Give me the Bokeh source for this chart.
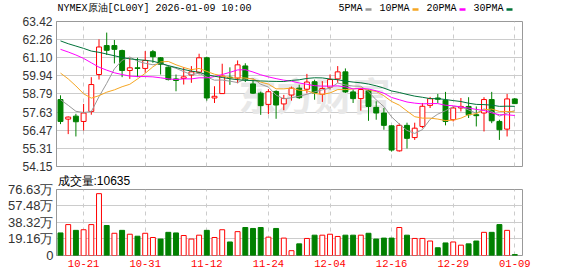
import pandas as pd
from bokeh.plotting import figure
from bokeh.layouts import column
from bokeh.models import Range1d, FixedTicker, CustomJSTickFormatter, Label, ColumnDataSource
from bokeh.core.properties import value
from bokeh.embed import file_html
from bokeh.resources import INLINE

# ---------------- data ----------------
dates = ["10-16", "10-17", "10-20", "10-21", "10-22", "10-23", "10-24", "10-27", "10-28", "10-29",
         "10-30", "10-31", "11-03", "11-04", "11-05", "11-06", "11-07", "11-10", "11-11", "11-12",
         "11-13", "11-14", "11-17", "11-18", "11-19", "11-20", "11-21", "11-24", "11-25", "11-26",
         "11-27", "11-28", "12-01", "12-02", "12-03", "12-04", "12-05", "12-08", "12-09", "12-10",
         "12-11", "12-12", "12-15", "12-16", "12-17", "12-18", "12-19", "12-22", "12-23", "12-24",
         "12-26", "12-29", "12-30", "12-31", "01-02", "01-05", "01-06", "01-07", "01-08", "01-09"]

open_ = [58.43, 57.18, 57.37, 57.03, 57.67, 60.03, 61.88, 61.88, 61.56, 60.29,
         60.46, 60.42, 61.49, 61.10, 60.50, 59.75, 59.78, 60.00, 60.18, 61.10,
         58.53, 58.81, 59.86, 59.80, 60.58, 59.43, 58.84, 58.12, 58.95, 58.15,
         58.72, 59.16, 59.09, 59.57, 58.77, 59.22, 59.75, 60.20, 58.92, 58.49,
         59.00, 57.93, 57.57, 56.75, 55.15, 56.78, 56.00, 56.71, 58.06, 58.53,
         58.38, 57.14, 57.89, 57.99, 57.46, 57.57, 58.43, 57.03, 56.54, 58.47]
high = [58.70, 57.35, 57.52, 58.15, 59.86, 62.28, 62.71, 62.24, 61.62, 61.10,
        61.10, 61.53, 61.60, 61.15, 60.63, 60.03, 60.50, 60.57, 61.36, 61.17,
        59.28, 60.72, 60.49, 60.93, 60.75, 59.70, 58.94, 59.10, 59.02, 58.73,
        59.26, 59.38, 60.07, 59.70, 59.61, 60.03, 60.57, 60.42, 59.07, 59.18,
        59.07, 58.32, 57.89, 56.78, 56.90, 56.95, 56.95, 58.21, 58.60, 58.79,
        58.92, 57.99, 58.53, 58.58, 57.99, 58.58, 58.92, 57.14, 58.79, 58.53]
low = [56.86, 56.22, 56.07, 56.45, 57.46, 59.71, 61.28, 60.74, 59.86, 59.75,
       59.86, 60.14, 60.78, 60.03, 59.65, 58.96, 59.39, 59.50, 60.03, 58.36,
       58.21, 58.79, 59.37, 59.47, 59.55, 58.79, 57.45, 57.50, 57.20, 57.75,
       58.36, 58.47, 58.82, 58.42, 58.28, 59.07, 59.50, 58.85, 58.21, 57.72,
       57.07, 57.14, 56.50, 55.10, 55.10, 55.30, 55.85, 56.60, 57.89, 58.21,
       56.78, 57.03, 57.67, 57.25, 56.71, 56.39, 56.92, 55.85, 56.07, 58.15]
close = [57.03, 57.31, 57.01, 57.57, 59.39, 61.79, 61.58, 61.64, 60.29, 60.46,
         60.42, 60.93, 61.17, 60.68, 59.71, 59.65, 59.88, 60.20, 61.10, 58.53,
         58.64, 59.93, 59.83, 60.65, 59.69, 58.84, 58.04, 58.93, 58.08, 58.50,
         59.16, 58.55, 59.55, 58.85, 59.14, 59.71, 60.20, 58.92, 58.49, 59.07,
         57.99, 57.57, 56.78, 55.20, 56.78, 55.95, 56.60, 58.00, 58.49, 58.45,
         57.03, 57.89, 57.99, 57.46, 57.40, 58.43, 57.07, 56.50, 58.47, 58.17]
# volume in 万 (10,000) units; last bar = 10635
volume_wan = [26.2, 35.9, 29.2, 29.9, 35.9, 71.8, 34.8, 25.8, 29.2, 24.7,
              22.4, 25.8, 20.9, 19.1, 26.9, 26.2, 23.2, 19.1, 23.6, 29.2,
              20.9, 29.9, 15.7, 27.7, 32.5, 31.4, 32.5, 21.3, 31.4, 20.2,
              5.6, 13.5, 19.8, 23.6, 23.6, 24.7, 22.1, 23.6, 23.6, 23.6,
              25.8, 19.1, 20.2, 20.2, 32.5, 23.6, 19.8, 19.8, 16.8, 9.0,
              14.6, 15.7, 12.0, 13.5, 16.8, 26.9, 26.9, 35.9, 29.2, 1.0635]

# moving-average values at the left edge (before enough closes are visible)
ma5_head = [58.42, 58.06, 57.68, 57.60]
ma10_head = [60.12, 59.75, 59.30, 58.80, 58.52, 58.68, 58.90, 59.05, 59.25]
ma20_head = [61.64, 61.47, 61.28, 61.06, 60.78, 60.50, 60.31, 60.14, 60.03, 59.93,
             59.90, 59.90, 59.88, 59.82, 59.75, 59.71, 59.75, 59.75, 59.82]
ma30_head = [62.18, 62.00, 61.85, 61.70, 61.53, 61.45, 61.34, 61.23, 61.12, 61.03,
             60.98, 60.94, 60.88, 60.75, 60.60, 60.48, 60.35, 60.25, 60.17, 60.02,
             59.92, 59.84, 59.76, 59.70, 59.66, 59.64, 59.62, 59.60, 59.59]

price_ticks = [54.15, 55.31, 56.47, 57.63, 58.79, 59.94, 61.10, 62.26, 63.42]
vol_ticks = [0, 19.16, 38.32, 57.48, 76.63]
title_text = "NYMEX原油[CL00Y] 2026-01-09 10:00"
vol_title = "成交量:10635"
ma_names = ["5PMA", "10PMA", "20PMA", "30PMA"]
ma_colors = ["#999999", "#f5a623", "#ff00ff", "#00723a"]

# ---------------- derived ----------------
s = pd.Series(close)


def ma(n, head):
    m = s.rolling(n).mean().tolist()
    return head + m[len(head):]


mas = [ma(5, ma5_head), ma(10, ma10_head), ma(20, ma20_head), ma(30, ma30_head)]

n = len(dates)
xs = list(range(n))
up = [c >= o for o, c in zip(open_, close)]
prev = [open_[0]] + close[:-1]
vup = [c > pc for c, pc in zip(close, prev)]
RED, GREEN = "#ff0000", "#008000"

src = ColumnDataSource(dict(
    x=xs, o=open_, h=high, l=low, c=close,
    btop=[max(o, c) for o, c in zip(open_, close)],
    bbot=[min(o, c) for o, c in zip(open_, close)],
    cline=[RED if u else GREEN for u in up],
    cfill=["white" if u else GREEN for u in up],
    vol=volume_wan,
    vline=[RED if u else GREEN for u in vup],
    vfill=["white" if u else GREEN for u in vup],
))

tick_idx = xs[3::8]
tick_labels = {i: dates[i] for i in tick_idx}

W = 578
BL, BR = 56, 56
FR_W = W - BL - BR
HEAD_H = 14
P_FRAME_H = 145
V_FRAME_H = 68
xr = Range1d(-0.52, -0.52 + FR_W / 7.7)

LABEL_FONT = "Liberation Sans"
MONO = "Liberation Mono"

# ---------------- header: title + MA legend (canvas pixel coordinates) ----------------
h = figure(width=W, height=HEAD_H, x_range=Range1d(BL, W - BR), y_range=Range1d(HEAD_H, 0),
           output_backend="svg", toolbar_location=None,
           min_border_left=BL, min_border_right=BR, min_border_top=0, min_border_bottom=0)
h.axis.visible = False
h.grid.visible = False
h.outline_line_color = None
h.text(x=[57], y=[8], text=[title_text], text_font=value(MONO), text_font_size="10px",
       text_color="#000000", text_baseline="middle", text_align="left")
lx = 338
tx, sx = [], []
for name in ma_names:
    tx.append(lx)
    lx += len(name) * 6 + 3
    sx.append(lx + 3)
    lx += 6 + 8
h.text(x=tx, y=[8] * len(tx), text=ma_names, text_font=value(MONO), text_font_size="10px",
       text_color="#000000", text_baseline="middle", text_align="left")
h.rect(x=sx, y=[9] * len(sx), width=6, height=2.5, fill_color=ma_colors, line_color=None)

# ---------------- price panel ----------------
p = figure(width=W, height=7 + P_FRAME_H + 7, x_range=xr,
           y_range=Range1d(price_ticks[0], price_ticks[-1]),
           output_backend="svg", toolbar_location=None,
           min_border_left=BL, min_border_right=BR, min_border_top=7, min_border_bottom=7)
p.xaxis.visible = False
p.xgrid.ticker = FixedTicker(ticks=tick_idx)
p.xgrid.grid_line_color = "#cccccc"
p.xgrid.grid_line_dash = "4 4"
p.ygrid.ticker = FixedTicker(ticks=price_ticks)
p.ygrid.grid_line_color = "#cccccc"
p.yaxis.ticker = FixedTicker(ticks=price_ticks)
p.yaxis.formatter = CustomJSTickFormatter(code="return tick.toFixed(2);")
p.yaxis.major_tick_line_color = None
p.yaxis.minor_tick_line_color = None
p.yaxis.major_tick_out = 0
p.yaxis.major_label_standoff = 4
p.yaxis.axis_line_color = "#999999"
p.yaxis.major_label_text_font = LABEL_FONT
p.yaxis.major_label_text_font_size = "12px"
p.yaxis.major_label_text_color = "#333333"
p.outline_line_color = "#999999"
p.outline_line_width = 1

p.add_layout(Label(x=258, y=73, x_units="screen", y_units="screen", text="东方财富",
                   text_font="Noto Sans CJK SC", text_font_style="bold", text_font_size="38px",
                   text_color="#e8e8e8", text_align="center", text_baseline="middle",
                   level="underlay"))

p.segment(x0="x", y0="l", x1="x", y1="h", line_color="cline", line_width=1, source=src)
p.vbar(x="x", top="btop", bottom="bbot", width=0.64, fill_color="cfill",
       line_color="cline", line_width=1, source=src)
for vals, col in zip(mas, ma_colors):
    p.line(xs, vals, line_color=col, line_width=1)

# ---------------- volume panel ----------------
v = figure(width=W, height=276 - HEAD_H - (7 + P_FRAME_H + 7), x_range=xr,
           y_range=Range1d(vol_ticks[0], vol_ticks[-1]),
           output_backend="svg", toolbar_location=None,
           min_border_left=BL, min_border_right=BR, min_border_top=14, min_border_bottom=21)
v.title.text = vol_title
v.title.align = "left"
v.title.vertical_align = "top"
v.title.offset = 1
v.title.standoff = 0
v.title.text_font = LABEL_FONT
v.title.text_font_size = "12px"
v.title.text_font_style = "normal"
v.title.text_color = "#000000"
v.xaxis.ticker = FixedTicker(ticks=tick_idx)
v.xaxis.major_label_overrides = tick_labels
v.xaxis.major_tick_line_color = None
v.xaxis.minor_tick_line_color = None
v.xaxis.major_tick_out = 0
v.xaxis.major_label_standoff = 4
v.xaxis.axis_line_color = None
v.xaxis.major_label_text_font = MONO
v.xaxis.major_label_text_font_size = "10.5px"
v.xaxis.major_label_text_color = "#ff0000"
v.xgrid.ticker = FixedTicker(ticks=tick_idx)
v.xgrid.grid_line_color = "#cccccc"
v.xgrid.grid_line_dash = "4 4"
v.ygrid.ticker = FixedTicker(ticks=vol_ticks)
v.ygrid.grid_line_color = "#cccccc"
v.yaxis.ticker = FixedTicker(ticks=vol_ticks)
v.yaxis.formatter = CustomJSTickFormatter(code="return tick == 0 ? '0' : tick.toFixed(2) + '万';")
v.yaxis.major_tick_line_color = None
v.yaxis.minor_tick_line_color = None
v.yaxis.major_tick_out = 0
v.yaxis.major_label_standoff = 3
v.yaxis.axis_line_color = "#999999"
v.yaxis.major_label_text_font = LABEL_FONT
v.yaxis.major_label_text_font_size = "13px"
v.yaxis.major_label_text_color = "#333333"
v.outline_line_color = "#999999"
v.outline_line_width = 1

v.vbar(x="x", top="vol", bottom=0, width=0.64, fill_color="vfill", line_color="vline",
       line_width=1, source=src)

layout = column(h, p, v, spacing=0)
open("out.html", "w").write(file_html(layout, INLINE))
